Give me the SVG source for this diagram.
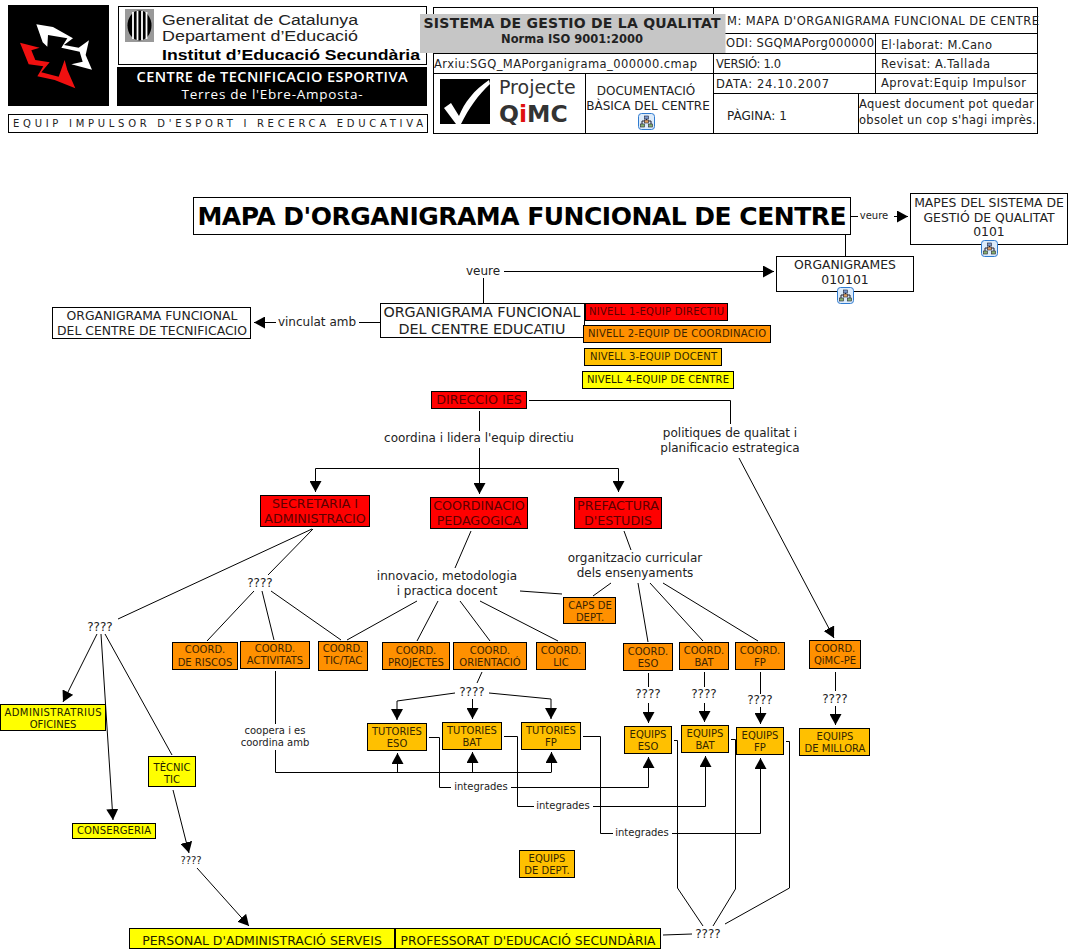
<svg xmlns="http://www.w3.org/2000/svg" xmlns:xlink="http://www.w3.org/1999/xlink" width="1070" height="952" viewBox="0 0 1070 952">
<style>
text{font-family:"DejaVu Sans",Verdana,sans-serif;fill:#222;font-size:10px}
.c{text-anchor:middle}
.b{stroke:#000;stroke-width:1}
.w{fill:#fff}.r{fill:#f00}.o{fill:#ff9000}.a{fill:#ffc000}.y{fill:#ff0}
.m{font-size:12.4px}.l{font-size:12px}.u{font-size:12.700px}.s{font-size:10px}.h{font-size:11.500px}.k{font-size:12px}
.g{font-family:"Liberation Sans",Arial,sans-serif;font-size:15.500px}
.rt{fill:#5c0000}.ot{fill:#3c2400}.at{fill:#332600}.yt{fill:#222200}
#connectors path{fill:none;stroke:#000;stroke-width:1}
#connectors path.ar{marker-end:url(#arrow)}
.t{fill:none;stroke:#000;stroke-width:1}
</style>
<defs>
<marker id="arrow" markerUnits="userSpaceOnUse" markerWidth="11" markerHeight="12" refX="11" refY="6" orient="auto"><path d="M0,0L11,6L0,12Z" fill="#000"/></marker>
<g id="icon"><rect x="0.500" y="0.500" width="16" height="16" rx="3" fill="#dcebfa" stroke="#2f7bd0"/><path d="M8.500,3.500V7M4,12V8H13V12" fill="none" stroke="#223"/><rect x="6.500" y="3" width="4" height="3" fill="#7a9ad0" stroke="#223" stroke-width=".6"/><rect x="6.500" y="7" width="4" height="3" fill="#e0a060" stroke="#223" stroke-width=".6"/><rect x="2.500" y="11" width="4" height="3" fill="#88b070" stroke="#223" stroke-width=".6"/><rect x="10.500" y="11" width="4" height="3" fill="#88b070" stroke="#223" stroke-width=".6"/></g>
</defs>

<g id="header-logos">
<rect x="8" y="5" width="101" height="101" fill="#000"/>
<g transform="translate(8,5) scale(.3333)">
<path d="M85,58L135,66L195,100L168,120L212,128L243,106L233,150L252,194L190,178L224,170L215,140L160,128L178,100L120,90L118,125L104,112Z" fill="#fff"/>
<path d="M36,113L95,128L70,136L82,165L125,172L100,202L152,215L170,165L178,195L202,250L140,225L88,214L106,184L62,178Z" fill="#f01010"/>
</g>
<rect class="b w" x="118.500" y="6.500" width="308" height="58"/>
<rect x="125" y="9" width="29" height="33" fill="#999"/>
<ellipse cx="139.500" cy="25.500" rx="12" ry="15" fill="#000"/>
<path d="M133,12V39M137.500,11V40M142,11V40M146.500,12V39" stroke="#fff" stroke-width="1.800" fill="none"/>
<text class="g" x="162" y="25" textLength="196" lengthAdjust="spacingAndGlyphs">Generalitat de Catalunya</text>
<text class="g" x="162" y="41" textLength="196" lengthAdjust="spacingAndGlyphs">Departament d’Educació</text>
<text class="g" x="162" y="60" style="font-weight:700;fill:#000" textLength="258" lengthAdjust="spacingAndGlyphs">Institut d’Educació Secundària</text>
<rect x="117" y="67" width="310" height="39" fill="#000"/>
<text class="c" x="272" y="82" style="font-family:'Open Sans',sans-serif;font-size:14.500px;font-weight:600;fill:#fff" textLength="271">CENTRE de TECNIFICACIO ESPORTIVA</text>
<text class="c" x="272" y="99" style="font-family:'Open Sans',sans-serif;font-size:13.500px;fill:#fff" textLength="181">Terres de l'Ebre-Amposta-</text>
<rect class="b w" x="8.500" y="114.500" width="419" height="18"/>
<text x="13" y="127" style="font-size:10px" textLength="410" lengthAdjust="spacing">EQUIP IMPULSOR D'ESPORT I RECERCA EDUCATIVA</text>
</g>

<g id="header-table">
<rect class="b w" x="433.500" y="7.500" width="604" height="126"/>
<path class="t" d="M433,53.500H713M433,73.500H1037M713.500,7V133M713,33.500H1037M713,53.500H1037M713,93.500H1037M875.500,33V93M858.500,93V133M585.500,73V133"/>
<text class="h" x="727" y="25" textLength="312">M: MAPA D'ORGANIGRAMA FUNCIONAL DE CENTRE</text>
<text class="h" x="726" y="47" textLength="148">ODI: SGQMAPorg000000</text>
<text class="h" x="881" y="49" textLength="111">El·laborat: M.Cano</text>
<text class="h" x="716" y="68" textLength="65">VERSIÓ: 1.0</text>
<text class="h" x="881" y="68" textLength="109">Revisat: A.Tallada</text>
<text class="h" x="716" y="88" textLength="113">DATA: 24.10.2007</text>
<text class="h" x="881" y="87" textLength="145">Aprovat:Equip Impulsor</text>
<text class="k" x="727" y="120">PÀGINA: 1</text>
<text class="h" x="859" y="108" textLength="175">Aquest document pot quedar</text>
<text class="h" x="859" y="124" textLength="177">obsolet un cop s'hagi imprès.</text>
<text class="h" x="434" y="68" textLength="263">Arxiu:SGQ_MAPorganigrama_000000.cmap</text>
<rect x="440" y="79" width="50" height="45" fill="#000"/>
<path d="M444,108L451,103L459,116C464,103 474,90 489,80L490,84C478,95 469,108 461,124H456Z" fill="#fff"/>
<text x="499" y="94" style="font-size:19px;fill:#333">Projecte</text>
<text x="499" y="122" style="font-size:23.500px;font-weight:700;fill:#333">Q<tspan style="fill:#e01010">i</tspan>MC</text>
<text class="c k" x="646" y="95">DOCUMENTACIÓ</text>
<text class="c k" x="648" y="110">BÀSICA DEL CENTRE</text>
<use xlink:href="#icon" href="#icon" x="638" y="113"/>
<rect x="420" y="14" width="305.500" height="39" fill="#c6c6c6"/>
<text class="c" x="572" y="28" style="font-size:14px;font-weight:700" textLength="297">SISTEMA DE GESTIO DE LA QUALITAT</text>
<text class="c" x="572" y="43" style="font-size:11.500px;font-weight:700">Norma ISO 9001:2000</text>
</g>

<g id="connectors">
<path d="M851,216.500H858"/><path class="ar" d="M894,216.500H908"/>
<path d="M845.500,235V256"/>
<path d="M483.500,303V278"/><path class="ar" d="M504,271.500H774"/>
<path d="M380,322.500H359"/><path class="ar" d="M276,322.500H254"/>
<path d="M529,400.500H730.500V424"/><path class="ar" d="M739,458L834,638"/>
<path d="M479.500,411V431"/><path class="ar" d="M479.500,448V494"/>
<path class="ar" d="M479,468.500H315.500V492"/><path class="ar" d="M479,468.500H618.500V492"/>
<path d="M312,529L118,619"/><path d="M313,529L268,575"/>
<path d="M254,591L207,641"/><path d="M262,591L274,640"/><path d="M271,591L341,640"/>
<path d="M471,531L455,568"/><path d="M417,601L347,640"/><path d="M438,601L417,641"/><path d="M460,601L490,641"/><path d="M480,601L558,641"/><path d="M520,591L562,594"/>
<path d="M624,531L631,550"/><path d="M611,583L593,596"/><path d="M638,583L648,642"/><path d="M650,583L703,641"/><path d="M663,583L758,641"/>
<path d="M482,672L477,683"/>
<path class="ar" d="M455,693L397,701V720"/><path class="ar" d="M472.500,699V719"/><path class="ar" d="M489,693L551,699V719"/>
<path d="M648.500,673V687"/><path class="ar" d="M648.500,703V723"/>
<path d="M704.500,672V687"/><path class="ar" d="M704.500,703V722"/>
<path d="M760.500,672V694"/><path class="ar" d="M760.500,707V724"/>
<path d="M835.500,672V691"/><path class="ar" d="M835.500,706V725"/>
<path d="M275.500,671V724"/><path d="M275.500,750V772.500H551.500"/>
<path class="ar" d="M397.500,772V753"/><path class="ar" d="M472.500,772V752"/><path class="ar" d="M551.500,772V752"/>
<path d="M429,737.500H439.500V787.500H451"/><path class="ar" d="M511,787.500H648.500V757"/>
<path d="M504,736.500H517.500V806.500H534"/><path class="ar" d="M593,806.500H705.500V756"/>
<path d="M583,736.500H600.500V833.500H613"/><path class="ar" d="M672,833.500H760.500V758"/>
<path d="M674,740.500H677.500V888L703,926"/><path d="M731,739.500H735.500V889L713,926"/><path d="M786,741.500H789.500V888L725,924"/>
<path d="M663,935L692,934"/>
<path class="ar" d="M97,634L63,702"/><path class="ar" d="M101,634L113,820"/><path d="M105,634L172,755"/>
<path class="ar" d="M173,790L189,853"/><path class="ar" d="M197,868L249,926"/>
</g>

<g id="n-title"><rect class="b w" x="193.500" y="197.500" width="657" height="37"/><text class="c" x="522" y="225" style="font-size:25px;font-weight:700;fill:#000" textLength="649">MAPA D'ORGANIGRAMA FUNCIONAL DE CENTRE</text></g>
<g id="n-mapes"><rect class="b w" x="910.500" y="193.500" width="157" height="51"/><text class="c m" x="989" y="207">MAPES DEL SISTEMA DE</text><text class="c m" x="989" y="222">GESTIÓ DE QUALITAT</text><text class="c m" x="989" y="236">0101</text><use xlink:href="#icon" href="#icon" x="981" y="240"/></g>
<g id="n-organigrames"><rect class="b w" x="776.500" y="256.500" width="137" height="35"/><text class="c m" x="845" y="269">ORGANIGRAMES</text><text class="c m" x="845" y="284">010101</text><use xlink:href="#icon" href="#icon" x="837" y="287"/></g>
<g id="n-org-centre"><rect class="b w" x="380.500" y="303.500" width="204" height="34"/><text class="c" style="font-size:14.300px" x="482" y="317">ORGANIGRAMA FUNCIONAL</text><text class="c" style="font-size:14.300px" x="482" y="334">DEL CENTRE EDUCATIU</text></g>
<g id="n-org-tecn"><rect class="b w" x="52.500" y="307.500" width="198" height="31"/><text class="c m" x="152" y="320">ORGANIGRAMA FUNCIONAL</text><text class="c m" x="152" y="335">DEL CENTRE DE TECNIFICACIO</text></g>
<g id="n-nivell1"><rect class="b r" x="585.500" y="303.500" width="142" height="17"/><text class="rt" x="589" y="315" textLength="135">NIVELL 1-EQUIP DIRECTIU</text></g>
<g id="n-nivell2"><rect class="b o" x="583.500" y="325.500" width="187" height="17"/><text class="ot" x="588" y="337" textLength="178">NIVELL 2-EQUIP DE COORDINACIO</text></g>
<g id="n-nivell3"><rect class="b a" x="584.500" y="348.500" width="137" height="17"/><text class="at" x="590" y="360" textLength="127">NIVELL 3-EQUIP DOCENT</text></g>
<g id="n-nivell4"><rect class="b y" x="582.500" y="371.500" width="151" height="17"/><text class="yt" x="587" y="383" textLength="142">NIVELL 4-EQUIP DE CENTRE</text></g>

<g id="n-direccio"><rect class="b r" x="431.500" y="391.500" width="95" height="17"/><text class="c u rt" x="479" y="404">DIRECCIO IES</text></g>
<g id="n-secretaria"><rect class="b r" x="260.500" y="495.500" width="109" height="31"/><text class="c u rt" x="315" y="508">SECRETARIA I</text><text class="c u rt" x="315" y="523">ADMINISTRACIO</text></g>
<g id="n-coordinacio"><rect class="b r" x="430.500" y="497.500" width="97" height="31"/><text class="c u rt" x="479" y="510">COORDINACIO</text><text class="c u rt" x="479" y="525">PEDAGOGICA</text></g>
<g id="n-prefactura"><rect class="b r" x="574.500" y="497.500" width="87" height="31"/><text class="c u rt" x="618" y="510">PREFACTURA</text><text class="c u rt" x="618" y="525">D'ESTUDIS</text></g>

<g id="n-caps"><rect class="b o" x="563.500" y="597.500" width="52" height="26"/><text class="c ot" x="590" y="609">CAPS DE</text><text class="c ot" x="590" y="621">DEPT.</text></g>
<g id="n-riscos"><rect class="b o" x="172.500" y="642.500" width="65" height="27"/><text class="c ot" x="205" y="653">COORD.</text><text class="c ot" x="205" y="666">DE RISCOS</text></g>
<g id="n-activitats"><rect class="b o" x="240.500" y="641.500" width="69" height="27"/><text class="c ot" x="275" y="652">COORD.</text><text class="c ot" x="275" y="664">ACTIVITATS</text></g>
<g id="n-tictac"><rect class="b o" x="318.500" y="641.500" width="49" height="29"/><text class="c ot" x="343" y="652">COORD.</text><text class="c ot" x="343" y="664">TIC/TAC</text></g>
<g id="n-projectes"><rect class="b o" x="382.500" y="642.500" width="67" height="27"/><text class="c ot" x="416" y="654">COORD.</text><text class="c ot" x="416" y="666">PROJECTES</text></g>
<g id="n-orientacio"><rect class="b o" x="453.500" y="642.500" width="73" height="27"/><text class="c ot" x="490" y="654">COORD.</text><text class="c ot" x="490" y="666">ORIENTACIÓ</text></g>
<g id="n-lic"><rect class="b o" x="536.500" y="642.500" width="49" height="27"/><text class="c ot" x="561" y="654">COORD.</text><text class="c ot" x="561" y="666">LIC</text></g>
<g id="n-c-eso"><rect class="b o" x="623.500" y="643.500" width="49" height="27"/><text class="c ot" x="648" y="655">COORD.</text><text class="c ot" x="648" y="667">ESO</text></g>
<g id="n-c-bat"><rect class="b o" x="679.500" y="642.500" width="49" height="27"/><text class="c ot" x="704" y="654">COORD.</text><text class="c ot" x="704" y="666">BAT</text></g>
<g id="n-c-fp"><rect class="b o" x="735.500" y="642.500" width="49" height="27"/><text class="c ot" x="760" y="654">COORD.</text><text class="c ot" x="760" y="666">FP</text></g>
<g id="n-c-qimc"><rect class="b o" x="809.500" y="640.500" width="51" height="28"/><text class="c ot" x="835" y="652">COORD.</text><text class="c ot" x="835" y="664">QiMC-PE</text></g>

<g id="n-t-eso"><rect class="b a" x="367.500" y="723.500" width="59" height="27"/><text class="c at" x="397" y="735">TUTORIES</text><text class="c at" x="397" y="747">ESO</text></g>
<g id="n-t-bat"><rect class="b a" x="442.500" y="722.500" width="59" height="27"/><text class="c at" x="472" y="734">TUTORIES</text><text class="c at" x="472" y="746">BAT</text></g>
<g id="n-t-fp"><rect class="b a" x="521.500" y="722.500" width="59" height="27"/><text class="c at" x="551" y="734">TUTORIES</text><text class="c at" x="551" y="746">FP</text></g>
<g id="n-e-eso"><rect class="b a" x="624.500" y="726.500" width="47" height="27"/><text class="c at" x="648" y="738">EQUIPS</text><text class="c at" x="648" y="750">ESO</text></g>
<g id="n-e-bat"><rect class="b a" x="681.500" y="725.500" width="47" height="27"/><text class="c at" x="705" y="737">EQUIPS</text><text class="c at" x="705" y="749">BAT</text></g>
<g id="n-e-fp"><rect class="b a" x="736.500" y="727.500" width="47" height="27"/><text class="c at" x="760" y="739">EQUIPS</text><text class="c at" x="760" y="751">FP</text></g>
<g id="n-e-millora"><rect class="b a" x="799.500" y="728.500" width="70" height="27"/><text class="c at" x="835" y="740">EQUIPS</text><text class="c at" x="835" y="752">DE MILLORA</text></g>
<g id="n-e-dept"><rect class="b a" x="519.500" y="850.500" width="55" height="27"/><text class="c at" x="547" y="862">EQUIPS</text><text class="c at" x="547" y="874">DE DEPT.</text></g>

<g id="n-admin"><rect class="b y" x="0.500" y="704.500" width="105" height="26"/><text class="c yt" x="53" y="716" textLength="97">ADMINISTRATRIUS</text><text class="c yt" x="53" y="728">OFICINES</text></g>
<g id="n-consergeria"><rect class="b y" x="72.500" y="823.500" width="83" height="15"/><text class="c yt" x="114" y="834" textLength="74">CONSERGERIA</text></g>
<g id="n-tecnic"><rect class="b y" x="148.500" y="756.500" width="47" height="30"/><text class="c yt" x="172" y="771">TÈCNIC</text><text class="c yt" x="172" y="783">TIC</text></g>
<g id="n-personal"><rect class="b y" x="129.500" y="928.500" width="265" height="20"/><text class="c yt" style="font-size:12.500px" x="262" y="945">PERSONAL D'ADMINISTRACIÓ SERVEIS</text></g>
<g id="n-professorat"><rect class="b y" x="395.500" y="928.500" width="265" height="20"/><text class="c yt" style="font-size:12.300px" x="528" y="945">PROFESSORAT D'EDUCACIÓ SECUNDÀRIA</text></g>

<g id="labels">
<text class="c s" x="874" y="219">veure</text>
<text class="c l" x="483" y="275">veure</text>
<text class="c l" x="317" y="326">vinculat amb</text>
<text class="c l" x="479" y="442">coordina i lidera l'equip directiu</text>
<text class="c l" x="730" y="437">politiques de qualitat i</text>
<text class="c l" x="730" y="452">planificacio estrategica</text>
<text class="c l" x="447" y="580">innovacio, metodologia</text>
<text class="c l" x="447" y="595">i practica docent</text>
<text class="c l" x="635" y="562">organitzacio curricular</text>
<text class="c l" x="635" y="577">dels ensenyaments</text>
<text class="c l" x="260" y="587">????</text>
<text class="c l" x="100" y="631">????</text>
<text class="c l" x="472" y="696">????</text>
<text class="c l" x="648" y="698">????</text>
<text class="c l" x="704" y="698">????</text>
<text class="c l" x="760" y="704">????</text>
<text class="c l" x="835" y="703">????</text>
<text class="c s" x="191" y="864">????</text>
<text class="c l" x="708" y="938">????</text>
<text class="c s" x="275" y="734">coopera i es</text>
<text class="c s" x="275" y="746">coordina amb</text>
<text class="c s" x="481" y="790">integrades</text>
<text class="c s" x="563" y="809">integrades</text>
<text class="c s" x="642" y="836">integrades</text>
</g>
</svg>
